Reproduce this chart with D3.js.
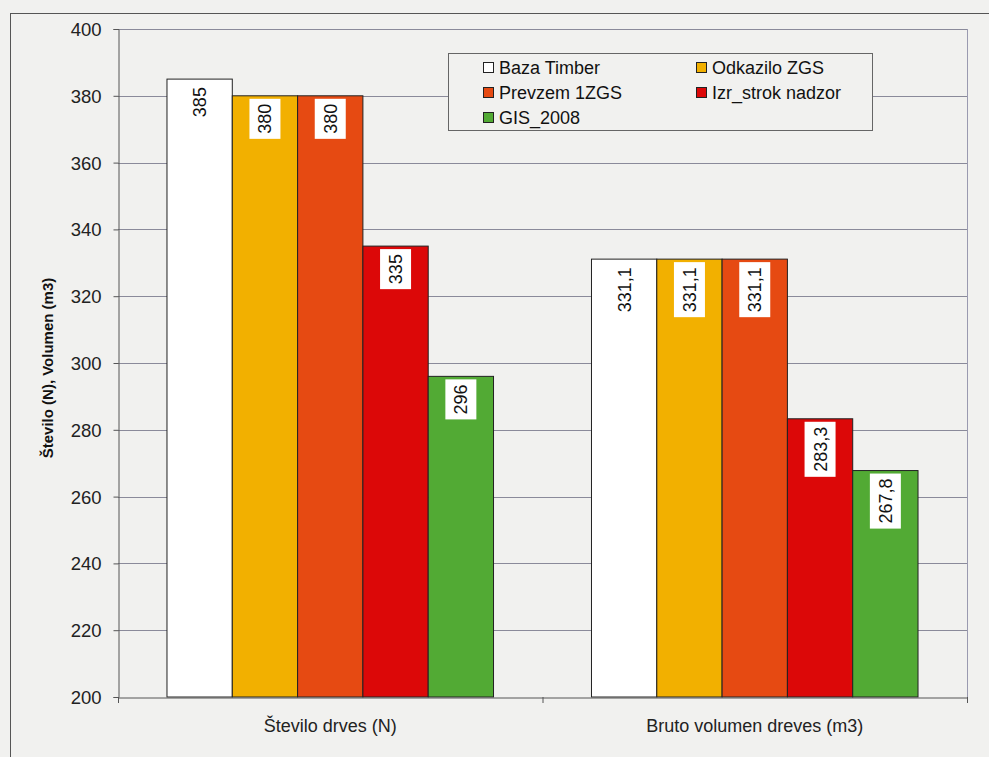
<!DOCTYPE html>
<html><head><meta charset="utf-8">
<script src="https://cdn.jsdelivr.net/npm/d3@7"></script>
<style>body{margin:0;background:#f1f1ef;}svg{display:block;font-family:"Liberation Sans",Arial,sans-serif;}</style>
</head><body>
<svg id="c" width="989" height="757"></svg>
<script>
const categories = ["Število drves (N)", "Bruto volumen dreves (m3)"];
const seriesNames = ["Baza Timber", "Odkazilo ZGS", "Prevzem 1ZGS", "Izr_strok nadzor", "GIS_2008"];
const seriesColors = ["#ffffff", "#f2b000", "#e64a12", "#dc0808", "#52aa34"];
const bazaTimber = [385, 331.1];
const odkaziloZGS = [380, 331.1];
const prevzem1ZGS = [380, 331.1];
const izrStrokNadzor = [335, 283.3];
const gis2008 = [296, 267.8];
const yTicks = [200, 220, 240, 260, 280, 300, 320, 340, 360, 380, 400];
const seriesValues = [bazaTimber, odkaziloZGS, prevzem1ZGS, izrStrokNadzor, gis2008];

const FONT = "Liberation Sans, Arial, sans-serif";
const svg = d3.select("#c");
const m = {l: 118, t: 29, r: 967, b: 697};
svg.append("rect").attr("x", 10.5).attr("y", 13.5).attr("width", 1000).attr("height", 800)
  .attr("fill", "#f1f1ef").attr("stroke", "#555").attr("stroke-width", 1);

const x0 = d3.scaleBand().domain(categories).range([m.l, m.r]).paddingInner(0).paddingOuter(0);
const gapFrac = 1.5 / 6.5;
const x1 = d3.scaleBand().domain(seriesNames).range([0, x0.bandwidth() * (1 - gapFrac)]).padding(0);
const y = d3.scaleLinear().domain([200, 400]).range([m.b, m.t]);

// gridlines
svg.append("g").selectAll("line").data(yTicks.slice(1)).join("line")
  .attr("x1", m.l).attr("x2", m.r).attr("y1", d => Math.round(y(d)) + 0.5).attr("y2", d => Math.round(y(d)) + 0.5)
  .attr("stroke", "#8a8a9a").attr("stroke-width", 1);
// right border
svg.append("line").attr("x1", m.r + 0.5).attr("x2", m.r + 0.5).attr("y1", m.t).attr("y2", m.b)
  .attr("stroke", "#9a9ab0");

// bars
const groups = svg.append("g").selectAll("g").data(categories).join("g")
  .attr("transform", c => `translate(${x0(c) + x0.bandwidth() * gapFrac / 2},0)`);
groups.each(function(c, ci) {
  const g = d3.select(this);
  seriesNames.forEach((s, si) => {
    const v = seriesValues[si][ci];
    const bx = x1(s), bw = x1.bandwidth();
    g.append("rect").attr("x", bx).attr("y", y(v)).attr("width", bw).attr("height", y(200) - y(v))
      .attr("fill", seriesColors[si]).attr("stroke", "#222").attr("stroke-width", 1);
    const label = String(v).replace(".", ",");
    const cx = bx + bw / 2;
    const top = y(v) + 3;
    const t = g.append("text").attr("font-size", 18).attr("fill", "#111").attr("text-anchor", "middle").text(label);
    const tw = t.node().getComputedTextLength();
    const lh = tw + 10;
    g.insert("rect", "text:last-child").attr("x", cx - 15.5).attr("y", top).attr("width", 31).attr("height", lh)
      .attr("fill", "#ffffff");
    t.attr("transform", `translate(${cx + 6.5},${top + lh / 2}) rotate(-90)`);
  });
});

// axes
const yAxis = d3.axisLeft(y).tickValues(yTicks).tickSize(5).tickPadding(12).tickFormat(d3.format("d"));
const ya = svg.append("g").attr("transform", `translate(${m.l + 0.5},0)`).call(yAxis);
ya.select(".domain").attr("stroke", "#555");
ya.selectAll(".tick line").attr("stroke", "#555");
ya.selectAll("text").attr("font-size", 18.5).attr("fill", "#222").attr("font-family", FONT).attr("dy", "0.35em");

const xa = svg.append("g").attr("transform", `translate(0,${m.b + 0.5})`)
  .call(d3.axisBottom(x0).tickSize(0).tickPadding(22));
xa.select(".domain").attr("stroke", "#555");
xa.selectAll("text").attr("font-size", 18).attr("fill", "#222").attr("font-family", FONT);
svg.append("g").selectAll("line").data([m.l, m.l + x0.bandwidth(), m.r]).join("line")
  .attr("x1", d => d + 0.5).attr("x2", d => d + 0.5).attr("y1", m.b).attr("y2", m.b + 6).attr("stroke", "#555");

svg.append("text").attr("transform", `translate(53,368) rotate(-90)`)
  .attr("text-anchor", "middle").attr("font-size", 15).attr("font-weight", "bold").attr("fill", "#111")
  .text("Število (N), Volumen (m3)");

// legend
const lg = svg.append("g");
lg.append("rect").attr("x", 448.5).attr("y", 53.5).attr("width", 424).attr("height", 77)
  .attr("fill", "#f1f1ef").attr("stroke", "#666");
seriesNames.forEach((s, i) => {
  const col = i % 2, row = Math.floor(i / 2);
  const lx = col === 0 ? 483 : 696;
  const ly = 67 + row * 25;
  lg.append("rect").attr("x", lx + 0.5).attr("y", ly - 4.5).attr("width", 10).attr("height", 10)
    .attr("fill", seriesColors[i]).attr("stroke", "#222");
  lg.append("text").attr("x", lx + 16).attr("y", ly + 7).attr("font-size", 18).attr("fill", "#111").text(s);
});
</script>
</body></html>
